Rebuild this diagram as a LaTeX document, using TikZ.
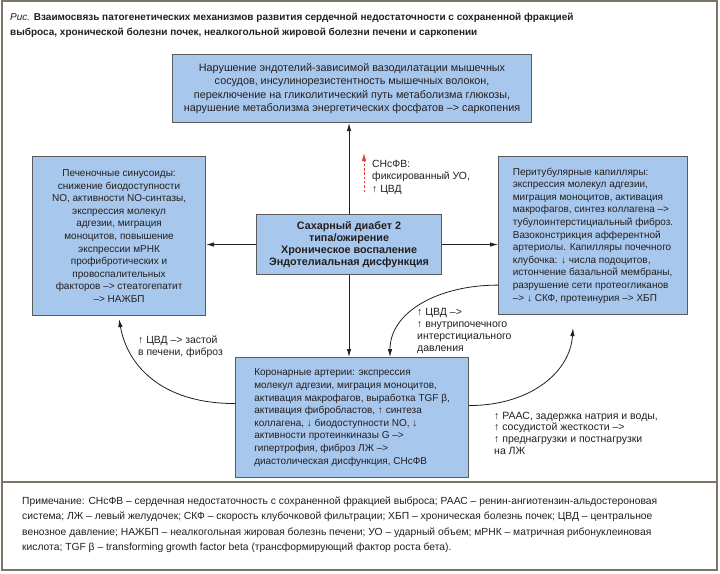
\documentclass[tikz,border=0pt]{standalone}
\usepackage{fontspec}
\setmainfont{Liberation Sans}
\usetikzlibrary{arrows.meta}
\definecolor{boxblue}{RGB}{168,199,236}
\definecolor{framecol}{RGB}{125,116,104}
\definecolor{ink}{RGB}{35,31,32}
\definecolor{boxline}{RGB}{90,90,90}
\definecolor{redarr}{RGB}{232,60,60}
\begin{document}
\begin{tikzpicture}[x=1pt,y=-1pt,
  box/.style={draw=boxline, line width=1.1pt, fill=boxblue, inner sep=0pt, anchor=north west,
    font=\fontsize{10}{12.6}\selectfont, text=ink},
  conn/.style={draw=ink, line width=0.8pt, -{Latex[length=8pt,width=4.5pt]}},
  lbl/.style={font=\fontsize{10.5}{11.8}\selectfont, text=ink, align=left, anchor=north west, inner sep=0pt},
]
\useasboundingbox (0,0) rectangle (720,573);
\fill[white] (0,0) rectangle (720,573);
\draw[framecol, line width=2pt] (2,1) rectangle (717,570);
\draw[framecol, line width=1.5pt] (2,482) -- (717,482);

\node[anchor=north west, inner sep=0pt, align=left, text=ink, font=\fontsize{10}{15}\selectfont] (title) at (10,12.5)
 {\textit{Рис.} \textbf{Взаимосвязь патогенетических механизмов развития сердечной недостаточности с сохраненной фракцией}\\
  \textbf{выброса, хронической болезни почек, неалкогольной жировой болезни печени и саркопении}};

\node[box, minimum width=359pt, minimum height=68pt, align=center, font=\fontsize{10.8}{13.2}\selectfont] (top) at (172,54)
 {Нарушение эндотелий-зависимой вазодилатации мышечных\\
  сосудов, инсулинорезистентность мышечных волокон,\\
  переключение на гликолитический путь метаболизма глюкозы,\\
  нарушение метаболизма энергетических фосфатов –> саркопения};

\node[box, minimum width=173pt, minimum height=159pt, align=center] (lbox) at (32,156)
 {Печеночные синусоиды:\\ снижение биодоступности\\ NO, активности NO-синтазы,\\ экспрессия молекул\\ адгезии, миграция\\ моноцитов, повышение\\ экспрессии мРНК\\ профибротических и\\ провоспалительных\\ факторов –> стеатогепатит\\ –> НАЖБП};

\node[box, minimum width=189pt, minimum height=158pt, align=left] (rbox) at (498,156)
 {Перитубулярные капилляры:\\ экспрессия молекул адгезии,\\ миграция моноцитов, активация\\ макрофагов, синтез коллагена –>\\ тубулоинтерстициальный фиброз.\\ Вазоконстрикция афферентной\\ артериолы. Капилляры почечного\\ клубочка: ↓ числа подоцитов,\\ истончение базальной мембраны,\\ разрушение сети протеогликанов\\ –> ↓ СКФ, протеинурия –> ХБП};

\node[box, minimum width=185pt, minimum height=60pt, align=center, font=\bfseries\fontsize{10.8}{11.8}\selectfont] (center) at (256,214)
 {Сахарный диабет 2\\ типа/ожирение\\ Хроническое воспаление\\ Эндотелиальная дисфункция};

\node[box, minimum width=233pt, minimum height=120pt, align=left] (bot) at (235,357)
 {Коронарные артерии: экспрессия\\ молекул адгезии, миграция моноцитов,\\ активация макрофагов, выработка TGF β,\\ активация фибробластов, ↑ синтеза\\ коллагена, ↓ биодоступности NO, ↓\\ активности протеинкиназы G –>\\ гипертрофия, фиброз ЛЖ –>\\ диастолическая дисфункция, СНсФВ};

% labels
\node[lbl, font=\fontsize{10.4}{12.5}\selectfont] (lsn) at (372,160) {СНсФВ:\\ фиксированный УО,\\ ↑ ЦВД};
\node[lbl, font=\fontsize{10.4}{12.5}\selectfont] (lliv) at (138,335.5) {↑ ЦВД –> застой\\ в печени, фиброз};
\node[lbl] (lkid) at (417,308.5) {↑ ЦВД –>\\ ↑ внутрипочечного\\ интерстициального\\ давления};
\node[lbl] (lraas) at (494,411.5) {↑ РААС, задержка натрия и воды,\\ ↑ сосудистой жесткости –>\\ ↑ преднагрузки и постнагрузки\\ на ЛЖ};

% connectors
\draw[conn] (center.north) -- (center.north |- top.south);
\draw[conn] (center.west) -- (center.west -| lbox.east);
\draw[conn] (center.east) -- (center.east -| rbox.west);
\draw[conn] (center.south) -- (center.south |- bot.north);
\draw[conn] ([yshift=30pt]rbox.south west) .. controls +(-60,0) and +(0,-45) .. ([xshift=155pt]bot.north west);
\draw[conn] ([yshift=14pt]bot.west) .. controls +(-75,0) and +(8,45) .. ([yshift=-3pt]lbox.south);
\draw[conn] ([yshift=12pt]bot.east) .. controls +(60,0) and +(-3,45) .. ([xshift=75pt,yshift=-13pt]rbox.south west);

\coordinate (ra) at (364,192);
\coordinate (rb) at (364,153);
\draw[redarr, line width=0.8pt, dash pattern=on 2.5pt off 1.8pt, -{Latex[length=8pt,width=4.5pt]}] (ra) -- (rb);

% note
\node[anchor=north west, inner sep=0pt, align=left, text=ink, font=\fontsize{10.3}{15.4}\selectfont] (note) at (22,496.5)
 {Примечание: СНсФВ – сердечная недостаточность с сохраненной фракцией выброса; РААС – ренин-ангиотензин-альдостероновая\\
  система; ЛЖ – левый желудочек; СКФ – скорость клубочковой фильтрации; ХБП – хроническая болезнь почек; ЦВД – центральное\\
  венозное давление; НАЖБП – неалкогольная жировая болезнь печени; УО – ударный объем; мРНК – матричная рибонуклеиновая\\
  кислота; TGF β – transforming growth factor beta (трансформирующий фактор роста бета).};
\end{tikzpicture}
\end{document}
